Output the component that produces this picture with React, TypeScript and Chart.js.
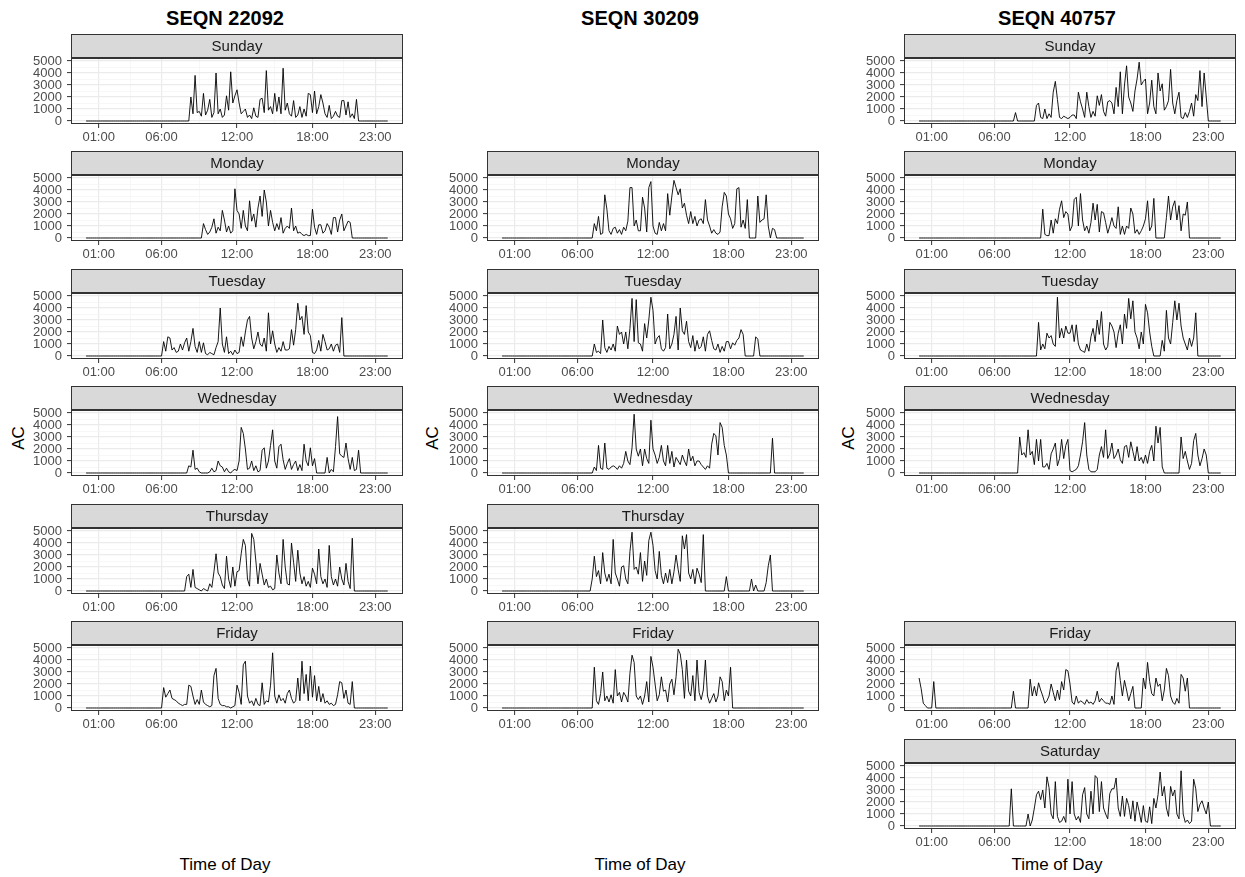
import React, { useEffect, useRef } from "react";
import { Chart, registerables } from "chart.js";

Chart.register(...registerables);

const FONT = "'Liberation Sans', Arial, Helvetica, sans-serif";

// ---------- labels ----------
const SUBJECTS = ["SEQN 22092", "SEQN 30209", "SEQN 40757"];
const X_TITLE = "Time of Day";
const Y_TITLE = "AC";
const X_TICKS = [1, 6, 12, 18, 23];
const X_TICK_LABELS = ["01:00", "06:00", "12:00", "18:00", "23:00"];
const X_MINOR = [3.5, 9, 15, 20.5];
const Y_TICKS = [0, 1000, 2000, 3000, 4000, 5000];
const Y_MINOR = [500, 1500, 2500, 3500, 4500];

// ---------- data: activity counts in 10-minute steps from a start time ----------
// SEQN 22092
const S22092_SUN_START = "08:20";
const S22092_SUN = [
  2000, 600, 3800, 700,
  800, 400, 2300, 500, 900, 1800,
  300, 700, 4000, 600, 1000, 300,
  500, 2100, 900, 4100, 1500, 2100,
  2600, 1500, 600, 800, 1000, 300,
  500, 200, 1100, 400, 300, 1800,
  1900, 700, 4200, 900, 1200, 600,
  2300, 800, 2000, 600, 4400, 900,
  1500, 600, 400, 1700, 300, 500,
  1200, 300, 1000, 400, 2300, 2200,
  700, 2500, 600, 1200, 2200, 1500,
  600, 300, 1300, 200, 400, 800,
  400, 300, 1700, 1700, 500, 1600,
  300, 600, 200, 1800,
];
const S22092_MON_START = "09:20";
const S22092_MON = [
  1200, 700, 300, 500,
  900, 1600, 400, 900, 600, 2300,
  1500, 500, 1000, 400, 600, 4100,
  2300, 2000, 800, 2300, 1000, 600,
  3100, 1400, 2000, 900, 2500, 3500,
  1800, 4000, 3000, 1000, 2300, 1300,
  600, 1200, 700, 1700, 400, 800,
  1000, 800, 2500, 600, 1000, 400,
  500, 300, 200, 300, 200, 200,
  2400, 900, 300, 1100, 1100, 400,
  600, 1200, 900, 300, 1700, 1700,
  500, 1500, 2000, 600, 1000, 1400,
  1300,
];
const S22092_TUE_START = "06:10";
const S22092_TUE = [
  1200, 400, 1600, 1500, 500,
  700, 300, 400, 1000, 500, 1100,
  1500, 400, 1200, 2300, 800, 300,
  1200, 300, 1100, 200, 100, 300,
  200, 100, 700, 1200, 4000, 1000,
  300, 1600, 200, 400, 100, 500,
  200, 300, 1600, 800, 2000, 3000,
  3300, 1500, 600, 1200, 2000, 1000,
  800, 1500, 400, 3600, 1000, 2100,
  1000, 300, 700, 400, 1200, 500,
  500, 600, 2200, 900, 2200, 4400,
  3000, 3300, 1800, 4200, 2000, 1700,
  300, 200, 500, 1300, 400, 1800,
  1200, 500, 600, 1000, 400, 900,
  1000, 300, 3200,
];
const S22092_WED_START = "08:10";
const S22092_WED = [
  600, 500, 1900, 300, 400,
  100, 0, 0, 0, 0, 100,
  400, 100, 200, 1000, 600, 500,
  100, 400, 100, 0, 200, 300,
  200, 1000, 3800, 3300, 2000, 300,
  400, 1000, 200, 600, 100, 200,
  1900, 2100, 400, 1000, 2300, 3600,
  1000, 400, 2200, 2400, 1100, 300,
  800, 1200, 300, 700, 1000, 200,
  700, 200, 2400, 1000, 600, 2100,
  600, 1200, 0, 0, 0, 0,
  0, 1300, 0, 300, 100, 2200,
  4700, 1600, 1400, 1300, 2500, 1200,
  300, 1300, 200, 300, 1900,
];
const S22092_THU_START = "08:00";
const S22092_THU = [
  1200, 1400, 300, 1800, 300, 200,
  100, 0, 200, 100, 0, 600,
  300, 1600, 3100, 1500, 1200, 500,
  200, 2900, 1000, 300, 2000, 400,
  1600, 1700, 3100, 4300, 3800, 1000,
  400, 4800, 4300, 2500, 600, 2300,
  1400, 500, 1000, 300, 400, 100,
  200, 3000, 1500, 600, 4300, 2000,
  600, 500, 4000, 2400, 800, 3400,
  1500, 600, 1200, 400, 800, 300,
  1900, 1400, 600, 3500, 1200, 600,
  1000, 300, 3800, 1200, 500, 1000,
  400, 2000, 1000, 500, 2300, 800,
  200, 4400,
];
const S22092_FRI_START = "06:10";
const S22092_FRI = [
  1700, 900, 1200, 1500, 800,
  700, 600, 400, 300, 200, 300,
  300, 1900, 1800, 1000, 300, 700,
  300, 1500, 500, 300, 200, 100,
  200, 2700, 3300, 800, 300, 200,
  200, 100, 100, 0, 100, 200,
  1900, 1300, 300, 3600, 3900, 1000,
  400, 600, 200, 800, 300, 200,
  2100, 300, 600, 500, 1900, 4600,
  1000, 400, 1100, 600, 800, 400,
  1200, 1500, 800, 400, 600, 2500,
  600, 3900, 1200, 2800, 600, 3500,
  900, 2700, 600, 1800, 500, 1200,
  400, 600, 300, 400, 200, 300,
  1100, 2200, 2100, 800, 1500, 400,
  300, 2200,
];

// SEQN 30209
const S30209_MON_START = "07:20";
const S30209_MON = [
  1200, 600, 1800, 300,
  400, 3600, 2400, 600, 300, 800,
  900, 400, 700, 300, 900, 600,
  1400, 4200, 4200, 1000, 1500, 600,
  600, 3400, 2500, 500, 4200, 4700,
  1000, 400, 300, 1300, 600, 1200,
  600, 3700, 1900, 3500, 4800, 4200,
  3600, 4100, 2500, 2900, 1900, 1200,
  2200, 1200, 1800, 1000, 1500, 1600,
  1200, 3200, 1500, 1000, 400, 700,
  400, 300, 500, 2600, 3800, 3500,
  2000, 1600, 800, 1200, 4100, 4200,
  900, 1500, 800, 3200, 0, 0,
  0, 0, 3500, 1300, 1500, 1600,
  3600, 1000, 0, 800, 700,
];
const S30209_TUE_START = "07:20";
const S30209_TUE = [
  1000, 300, 400, 200,
  3000, 700, 300, 800, 500, 1000,
  400, 2500, 1800, 2000, 1000, 2000,
  600, 2300, 4800, 1200, 4700, 1100,
  1000, 400, 2700, 1500, 3000, 4900,
  3800, 1000, 1500, 1700, 600, 400,
  700, 3500, 600, 1000, 1800, 3300,
  500, 4000, 2100, 1800, 2900, 1200,
  700, 1700, 400, 1300, 600, 800,
  1600, 400, 1800, 2100, 1300, 600,
  500, 1000, 300, 800, 400, 1200,
  1200, 600, 1100, 900, 1300, 1500,
  2200, 1800, 0, 0, 0, 0,
  0, 1600, 1400,
];
const S30209_WED_START = "07:20";
const S30209_WED = [
  500, 200, 2300, 400,
  300, 2500, 400, 300, 500, 600,
  500, 300, 600, 400, 800, 1800,
  1000, 700, 2100, 4900, 2000, 1400,
  2000, 600, 2000, 1200, 800, 4400,
  2000, 1500, 800, 1300, 2300, 1000,
  600, 2300, 800, 1800, 500, 1300,
  1000, 700, 1500, 1000, 600, 2000,
  1000, 1400, 600, 1000, 1000, 700,
  500, 300, 600, 400, 2400, 3300,
  3100, 1500, 4200, 3800, 2300, 1500,
  0, 0, 0, 0, 0, 0,
  0, 0, 0, 0, 0, 0,
  0, 0, 0, 0, 0, 0,
  0, 0, 0, 2900,
];
const S30209_THU_START = "07:10";
const S30209_THU = [
  1000, 2900, 1200, 1700, 600,
  3200, 1500, 800, 1400, 600, 4300,
  1500, 1000, 400, 2000, 2100, 1000,
  600, 3300, 4900, 1800, 2000, 1400,
  3200, 800, 2500, 1300, 4200, 4900,
  3800, 1700, 1000, 3300, 1300, 600,
  1500, 700, 1800, 600, 1600, 3000,
  1800, 800, 4600, 3500, 4700, 1500,
  1000, 1800, 600, 1900, 1400, 700,
  4700, 0, 0, 0, 0, 0,
  0, 0, 0, 0, 0, 1200,
  0, 0, 0, 0, 0, 0,
  0, 0, 0, 0, 0, 1000,
  0, 500, 0, 0, 0, 0,
  700, 2100, 3000,
];
const S30209_FRI_START = "07:20";
const S30209_FRI = [
  3400, 600, 300, 1200,
  3000, 600, 1000, 500, 1100, 400,
  3200, 1000, 1300, 500, 1300, 1000,
  500, 2900, 4400, 3800, 1000, 700,
  1000, 300, 1000, 2200, 500, 4300,
  3400, 2000, 600, 1100, 2600, 1400,
  1500, 500, 2000, 2400, 1100, 2600,
  4900, 4500, 3200, 800, 4000, 1400,
  1000, 2700, 600, 4000, 1300, 700,
  1500, 4000, 1000, 400, 800, 1200,
  500, 1000, 2600, 2200, 600, 1500,
  1000, 3400,
];

// SEQN 40757
const S40757_SUN_START = "07:40";
const S40757_SUN = [
  700, 0,
  0, 0, 0, 0, 0, 0,
  0, 0, 1300, 1500, 300, 200,
  1000, 200, 600, 300, 2400, 3300,
  1800, 300, 200, 400, 300, 200,
  300, 500, 500, 200, 2400, 1600,
  1000, 300, 2400, 1200, 300, 800,
  400, 2100, 1300, 2200, 800, 400,
  1600, 1700, 1500, 600, 2800, 1200,
  4100, 600, 3000, 4600, 2000, 1500,
  800, 2500, 3500, 4900, 3000, 3300,
  3500, 600, 1500, 3400, 1200, 600,
  4000, 2500, 3100, 900, 1200, 1700,
  4300, 1500, 600, 1700, 2400, 300,
  200, 700, 300, 800, 1500, 400,
  2200, 1700, 4200, 1200, 4000, 2000,
];
const S40757_MON_START = "09:50";
const S40757_MON = [
  2400,
  300, 200, 200, 1500, 400, 1600,
  1200, 2400, 3100, 1700, 2200, 2000,
  600, 1000, 3200, 3400, 1000, 3700,
  1500, 600, 1000, 400, 1300, 2900,
  1500, 2800, 500, 2200, 2100, 1300,
  400, 1000, 1700, 1000, 800, 2600,
  300, 1000, 300, 1000, 800, 2500,
  2000, 400, 700, 300, 600, 1000,
  1600, 3100, 600, 1000, 3300, 0,
  0, 0, 0, 0, 1700, 3500,
  1500, 2600, 3100, 1500, 2700, 600,
  2000, 1900, 3000,
];
const S40757_TUE_START = "09:30";
const S40757_TUE = [
  2800, 500, 1000,
  600, 1900, 1500, 1700, 1000, 800,
  4900, 1500, 2300, 1500, 2500, 1900,
  1900, 2600, 1200, 2600, 1000, 500,
  400, 300, 1000, 400, 1600, 2300,
  1200, 3000, 1800, 3700, 1000, 500,
  800, 2800, 2500, 2000, 700, 1900,
  2600, 1000, 3500, 2300, 4800, 3100,
  4600, 2000, 1500, 600, 2000, 1000,
  4300, 3600, 2000, 800, 0, 0,
  0, 0, 1300, 400, 3800, 1500,
  1000, 2800, 4600, 3000, 4400, 2500,
  1500, 1000, 500, 1500, 800, 1500,
  3600,
];
const S40757_WED_START = "08:00";
const S40757_WED = [
  3000, 1500, 1700, 1300, 3600, 1500,
  1800, 700, 2800, 1000, 2800, 500,
  500, 800, 300, 1600, 2000, 2500,
  600, 1200, 2800, 1200, 2300, 2800,
  200, 100, 200, 300, 600, 1500,
  2600, 4200, 1500, 300, 100, 100,
  100, 300, 1500, 2200, 1300, 3600,
  1200, 1600, 2500, 1200, 1500, 2000,
  1100, 800, 2200, 2300, 1300, 2600,
  1800, 1000, 2200, 1000, 1300, 800,
  1500, 800, 1800, 2300, 1000, 3900,
  2500, 3800, 500, 0, 0, 0,
  0, 0, 0, 0, 0, 3000,
  1200, 1800, 1000, 300, 800, 2700,
  3300, 1500, 600, 1200, 2000, 1500,
];
const S40757_FRI_START = "00:00";
const S40757_FRI = [
  2500, 1600, 400, 200, 0, 0,
  0, 2200, 0, 0, 0, 0,
  0, 0, 0, 0, 0, 0,
  0, 0, 0, 0, 0, 0,
  0, 0, 0, 0, 0, 0,
  0, 0, 0, 0, 0, 0,
  0, 0, 0, 0, 0, 0,
  0, 0, 0, 1400, 0, 0,
  0, 0, 0, 0, 0, 2400,
  1000, 1800, 1000, 2100, 1500, 1000,
  400, 600, 1000, 2000, 1300, 600,
  1500, 700, 2200, 1500, 3200, 3100,
  2000, 500, 300, 1000, 400, 600,
  500, 300, 700, 400, 500, 300,
  600, 1400, 500, 800, 600, 400,
  400, 300, 1000, 300, 3100, 3800,
  2300, 1000, 2300, 1500, 600, 1200,
  1800, 0, 0, 0, 0, 2500,
  1600, 3800, 2200, 1200, 1000, 2500,
  1800, 2000, 600, 1500, 3300, 2700,
  1000, 500, 300, 800, 400, 2800,
  2500, 1400, 2500,
];
const S40757_SAT_START = "07:20";
const S40757_SAT = [
  3100, 0, 0, 0,
  0, 0, 0, 0, 1000, 0,
  500, 1500, 2600, 2900, 2200, 3000,
  1500, 4100, 3200, 1000, 600, 3700,
  800, 300, 400, 800, 300, 3900,
  1000, 3700, 1000, 500, 800, 300,
  2600, 3200, 1000, 600, 2900, 1000,
  4200, 4000, 1200, 3700, 1500, 1000,
  600, 2700, 3100, 3100, 4000, 1500,
  800, 2500, 800, 2300, 1700, 600,
  2100, 400, 2000, 1200, 300, 1700,
  400, 300, 1600, 200, 2300, 1500,
  2600, 4500, 2500, 3300, 1500, 800,
  3300, 2500, 3000, 1000, 600, 4600,
  1000, 300, 500, 200, 400, 3900,
  3100, 1200, 1800, 2100, 1500, 1000,
  2000,
];

// ---------- panels (column = subject, row = weekday) ----------
const PANELS = [
  { col: 0, row: 0, day: "Sunday", start: S22092_SUN_START, ac: S22092_SUN },
  { col: 0, row: 1, day: "Monday", start: S22092_MON_START, ac: S22092_MON },
  { col: 0, row: 2, day: "Tuesday", start: S22092_TUE_START, ac: S22092_TUE },
  { col: 0, row: 3, day: "Wednesday", start: S22092_WED_START, ac: S22092_WED },
  { col: 0, row: 4, day: "Thursday", start: S22092_THU_START, ac: S22092_THU },
  { col: 0, row: 5, day: "Friday", start: S22092_FRI_START, ac: S22092_FRI },
  { col: 1, row: 1, day: "Monday", start: S30209_MON_START, ac: S30209_MON },
  { col: 1, row: 2, day: "Tuesday", start: S30209_TUE_START, ac: S30209_TUE },
  { col: 1, row: 3, day: "Wednesday", start: S30209_WED_START, ac: S30209_WED },
  { col: 1, row: 4, day: "Thursday", start: S30209_THU_START, ac: S30209_THU },
  { col: 1, row: 5, day: "Friday", start: S30209_FRI_START, ac: S30209_FRI },
  { col: 2, row: 0, day: "Sunday", start: S40757_SUN_START, ac: S40757_SUN },
  { col: 2, row: 1, day: "Monday", start: S40757_MON_START, ac: S40757_MON },
  { col: 2, row: 2, day: "Tuesday", start: S40757_TUE_START, ac: S40757_TUE },
  { col: 2, row: 3, day: "Wednesday", start: S40757_WED_START, ac: S40757_WED },
  { col: 2, row: 5, day: "Friday", start: S40757_FRI_START, ac: S40757_FRI },
  { col: 2, row: 6, day: "Saturday", start: S40757_SAT_START, ac: S40757_SAT },
];

// ---------- layout ----------
const COL_LEFT = [71, 487, 904];
const PANEL_W = 332;
const STRIP_H = 24;
const PLOT_H = 66;
const Y_AXIS_W = 66;
const X_AXIS_H = 26;
const RIGHT_PAD = 4;
const stripTop = (r: number) => Math.round(33.5 + 117.5 * r);
const TITLE_X = [225, 640, 1057];
const AC_X = [18, 432, 848];

function toMin(s: string) {
  const [h, m] = s.split(":").map(Number);
  return h * 60 + m;
}

function buildPoints(start: string, ac: number[]) {
  const s = toMin(start);
  const pts: { x: number; y: number }[] = [];
  for (let m = 0; m < 1440; m += 10) {
    const i = (m - s) / 10;
    pts.push({ x: m / 60, y: i >= 0 && i < ac.length ? ac[i] : 0 });
  }
  pts.push({ x: 1439 / 60, y: 0 });
  return pts;
}

const X_MAJOR_SET = new Set(X_TICKS);
const Y_MAJOR_SET = new Set(Y_TICKS);

const stripPlugin = {
  id: "strip",
  afterDraw(chart: any, _args: any, opts: any) {
    const { ctx, chartArea: a } = chart;
    const L = Math.round(a.left);
    const T = Math.round(a.top);
    const W = Math.round(a.right - a.left);
    const H = Math.round(a.bottom - a.top);
    ctx.save();
    // strip
    ctx.fillStyle = "#D9D9D9";
    ctx.fillRect(L, T - STRIP_H, W, STRIP_H);
    ctx.strokeStyle = "#333333";
    ctx.lineWidth = 1;
    ctx.strokeRect(L + 0.5, T - STRIP_H + 0.5, W - 1, STRIP_H);
    ctx.fillStyle = "#1A1A1A";
    ctx.font = `15px ${FONT}`;
    ctx.textAlign = "center";
    ctx.textBaseline = "middle";
    ctx.fillText(opts.label, L + W / 2, T - STRIP_H / 2 + 1);
    // panel border
    ctx.strokeStyle = "#333333";
    ctx.lineWidth = 1;
    ctx.strokeRect(L + 0.5, T + 0.5, W - 1, H - 1);
    ctx.lineWidth = 2;
    ctx.beginPath();
    ctx.moveTo(L, T);
    ctx.lineTo(L + W, T);
    ctx.stroke();
    ctx.restore();
  },
};

function Panel({ p }: { p: (typeof PANELS)[number] }) {
  const ref = useRef<HTMLCanvasElement | null>(null);
  const cw = Y_AXIS_W + PANEL_W + RIGHT_PAD;
  const ch = STRIP_H + PLOT_H + X_AXIS_H;
  const left = COL_LEFT[p.col] - Y_AXIS_W;
  const top = stripTop(p.row);

  useEffect(() => {
    if (!ref.current) return;
    const chart = new Chart(ref.current, {
      type: "line",
      data: {
        datasets: [
          {
            data: buildPoints(p.start, p.ac),
            borderColor: "#000000",
            borderWidth: 0.9,
            borderJoinStyle: "round",
            pointRadius: 0,
            tension: 0,
            fill: false,
          },
        ],
      },
      options: {
        animation: false,
        responsive: false,
        maintainAspectRatio: false,
        devicePixelRatio: 1,
        events: [],
        layout: { padding: { top: STRIP_H, right: RIGHT_PAD, left: 0, bottom: 0 } },
        plugins: {
          legend: { display: false },
          tooltip: { enabled: false },
          strip: { label: p.day },
        } as any,
        scales: {
          x: {
            type: "linear",
            min: -1.2,
            max: 25.2,
            afterBuildTicks: (s: any) => {
              s.ticks = [...X_TICKS, ...X_MINOR].sort((a, b) => a - b).map((v) => ({ value: v }));
            },
            afterFit: (s: any) => {
              s.height = X_AXIS_H;
              s.paddingLeft = 0;
              s.paddingRight = 0;
            },
            ticks: {
              autoSkip: false,
              maxRotation: 0,
              minRotation: 0,
              padding: 2,
              color: "#4D4D4D",
              font: { family: FONT, size: 13 },
              callback: (v: any) => {
                const i = X_TICKS.indexOf(Number(v));
                return i >= 0 ? X_TICK_LABELS[i] : "";
              },
            },
            grid: {
              color: (c: any) => (X_MAJOR_SET.has(c.tick?.value) ? "#EBEBEB" : "#F2F2F2"),
              lineWidth: (c: any) => (X_MAJOR_SET.has(c.tick?.value) ? 1.2 : 0.6),
              tickColor: (c: any) => (X_MAJOR_SET.has(c.tick?.value) ? "#333333" : "rgba(0,0,0,0)"),
              tickWidth: 1,
              tickLength: 4,
              drawTicks: true,
            },
            border: { display: false },
          },
          y: {
            type: "linear",
            min: -250,
            max: 5250,
            afterBuildTicks: (s: any) => {
              s.ticks = [...Y_TICKS, ...Y_MINOR].sort((a, b) => a - b).map((v) => ({ value: v }));
            },
            afterFit: (s: any) => {
              s.width = Y_AXIS_W;
              s.paddingTop = 0;
              s.paddingBottom = 0;
            },
            ticks: {
              autoSkip: false,
              padding: 5,
              color: "#4D4D4D",
              font: { family: FONT, size: 13 },
              callback: (v: any) => (Y_MAJOR_SET.has(Number(v)) ? String(v) : ""),
            },
            grid: {
              color: (c: any) => (Y_MAJOR_SET.has(c.tick?.value) ? "#EBEBEB" : "#F2F2F2"),
              lineWidth: (c: any) => (Y_MAJOR_SET.has(c.tick?.value) ? 1.2 : 0.6),
              tickColor: (c: any) => (Y_MAJOR_SET.has(c.tick?.value) ? "#333333" : "rgba(0,0,0,0)"),
              tickWidth: 1,
              tickLength: 4,
              drawTicks: true,
            },
            border: { display: false },
          },
        },
      } as any,
      plugins: [stripPlugin as any],
    });
    return () => chart.destroy();
  }, [p]);

  return (
    <canvas
      ref={ref}
      width={cw}
      height={ch}
      style={{ position: "absolute", left, top, width: cw, height: ch }}
    />
  );
}

const textBase: React.CSSProperties = {
  position: "absolute",
  fontFamily: FONT,
  color: "#000000",
  whiteSpace: "nowrap",
  transform: "translate(-50%, -50%)",
  lineHeight: 1,
};

export default function App() {
  return (
    <div
      style={{
        position: "absolute",
        left: 0,
        top: 0,
        width: 1245,
        height: 877,
        background: "#FFFFFF",
        overflow: "hidden",
      }}
    >
      {SUBJECTS.map((s, i) => (
        <div key={"t" + i} style={{ ...textBase, left: TITLE_X[i], top: 18, fontSize: 20, fontWeight: "bold" }}>
          {s}
        </div>
      ))}
      {SUBJECTS.map((_, i) => (
        <div key={"x" + i} style={{ ...textBase, left: TITLE_X[i], top: 864, fontSize: 17 }}>
          {X_TITLE}
        </div>
      ))}
      {SUBJECTS.map((_, i) => (
        <div
          key={"y" + i}
          style={{ ...textBase, left: AC_X[i], top: 438, fontSize: 17, transform: "translate(-50%, -50%) rotate(-90deg)" }}
        >
          {Y_TITLE}
        </div>
      ))}
      {PANELS.map((p, i) => (
        <Panel key={i} p={p} />
      ))}
    </div>
  );
}
